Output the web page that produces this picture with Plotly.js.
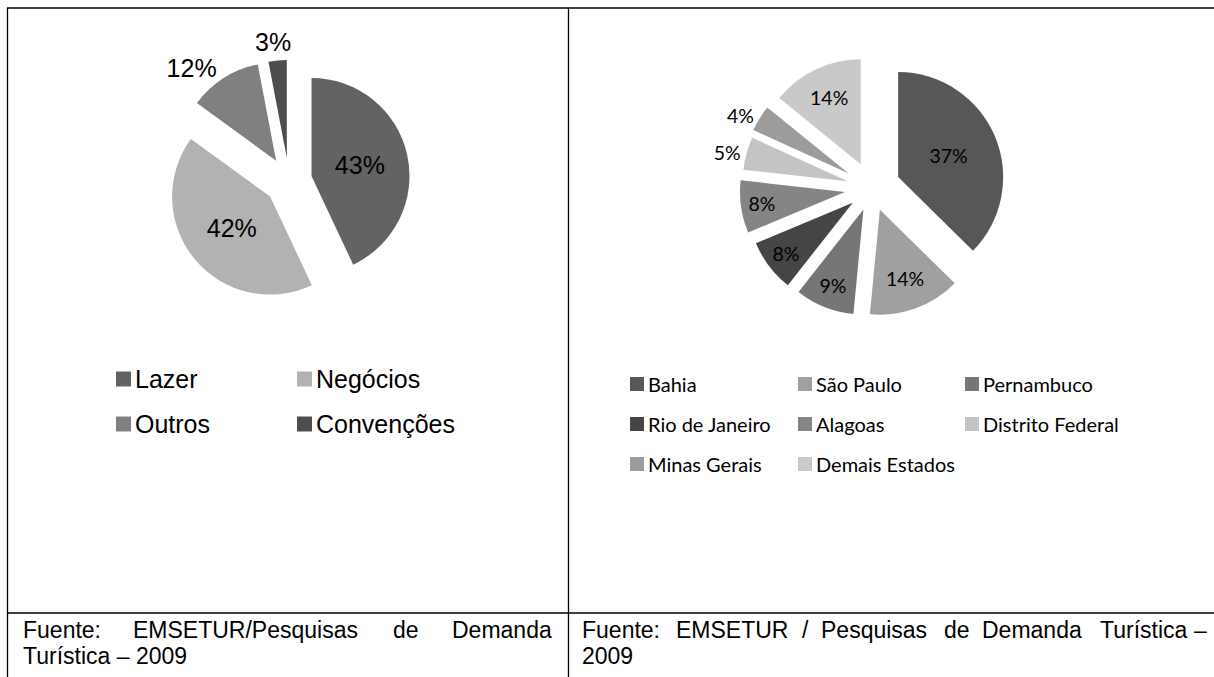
<!DOCTYPE html>
<html>
<head>
<meta charset="utf-8">
<script src="https://cdn.plot.ly/plotly-3.0.1.min.js"></script>
<style>
html,body{margin:0;padding:0;background:#fff;}
#chart{width:1214px;height:677px;}
</style>
</head>
<body>
<div id="chart"></div>
<script>
// ---------- data ----------
const motivoLabels = ['Lazer', 'Negócios', 'Outros', 'Convenções'];
const motivoValues = [43, 42, 12, 3];
const motivoColors = ['#636363', '#b2b2b2', '#808080', '#4e4e4e'];

const estadoLabels = ['Bahia', 'São Paulo', 'Pernambuco', 'Rio de Janeiro', 'Alagoas', 'Distrito Federal', 'Minas Gerais', 'Demais Estados'];
const estadoValues = [37, 14, 9, 8, 8, 5, 4, 14];
const estadoColors = ['#575757', '#a0a0a0', '#767676', '#454545', '#858585', '#c4c4c4', '#9c9c9c', '#c9c9c9'];

const fonteLeftLine1 = ['Fuente:', 'EMSETUR/Pesquisas', 'de', 'Demanda'];
const fonteLeftLine2 = 'Turística – 2009';
const fonteRightLine1 = ['Fuente:', 'EMSETUR', '/', 'Pesquisas', 'de', 'Demanda', 'Turística', '–'];
const fonteRightLine2 = '2009';

// ---------- layout helpers ----------
const W = 1214, H = 677;
const px = x => x / W;
const py = y => 1 - y / H;
const ARIAL = 'Liberation Sans, Arial, sans-serif';
const CALIBRI = 'Lato, Carlito, Calibri, sans-serif';

function pieDomain(cx, cy, r, maxPull) {
  const h = r * (1 + maxPull);
  return { x: [px(cx - h), px(cx + h)], y: [py(cy + h), py(cy - h)] };
}

const leftPull = [0.235, 0.25, 0.245, 0.235];
const rightPull = [0.27, 0.22, 0.22, 0.23, 0.26, 0.24, 0.26, 0.25];

// the smallest left slice gets its label as a free text (Plotly would add a leader line)
const motivoTotal = motivoValues.reduce((a, b) => a + b, 0);
const smallLabel = Math.round(100 * motivoValues[3] / motivoTotal) + '%';

const traces = [
  {
    type: 'pie',
    labels: motivoLabels,
    values: motivoValues,
    marker: { colors: motivoColors, line: { width: 0 } },
    sort: false,
    direction: 'clockwise',
    rotation: 0,
    pull: leftPull,
    texttemplate: '%{percent:.0%}',
    textposition: ['inside', 'inside', 'outside', 'none'],
    insidetextorientation: 'horizontal',
    textfont: { family: ARIAL, size: 25, color: '#000' },
    domain: pieDomain(289, 181, 98, Math.max(...leftPull)),
    hoverinfo: 'skip',
    showlegend: false
  },
  {
    type: 'pie',
    labels: estadoLabels,
    values: estadoValues,
    marker: { colors: estadoColors, line: { width: 0 } },
    sort: false,
    direction: 'clockwise',
    rotation: 0,
    pull: rightPull,
    texttemplate: '%{percent:.0%}',
    textposition: ['inside', 'inside', 'inside', 'inside', 'inside', 'outside', 'outside', 'inside'],
    insidetextorientation: 'horizontal',
    textfont: { family: CALIBRI, size: 19.5, color: '#000' },
    domain: pieDomain(872, 188, 105, Math.max(...rightPull)),
    hoverinfo: 'skip',
    showlegend: false
  }
];

const shapes = [];
const annotations = [];
const lineStyle = { color: '#000', width: 1.3 };
// table borders
shapes.push({ type: 'line', xref: 'paper', yref: 'paper', x0: px(7), x1: px(1214), y0: py(8), y1: py(8), line: lineStyle });
shapes.push({ type: 'line', xref: 'paper', yref: 'paper', x0: px(7.5), x1: px(7.5), y0: py(8), y1: py(677), line: lineStyle });
shapes.push({ type: 'line', xref: 'paper', yref: 'paper', x0: px(568.5), x1: px(568.5), y0: py(8), y1: py(677), line: lineStyle });
shapes.push({ type: 'line', xref: 'paper', yref: 'paper', x0: px(7), x1: px(1214), y0: py(613), y1: py(613), line: lineStyle });

// label of the smallest slice
annotations.push({ xref: 'paper', yref: 'paper', x: px(273), y: py(42), xanchor: 'center', yanchor: 'middle',
  showarrow: false, text: smallLabel, font: { family: ARIAL, size: 25, color: '#000' } });

// manual legends
function legendItem(x, y, size, color, text, font) {
  shapes.push({ type: 'rect', xref: 'paper', yref: 'paper',
    x0: px(x), x1: px(x + size), y0: py(y + size / 2), y1: py(y - size / 2),
    fillcolor: color, line: { width: 0 } });
  annotations.push({ xref: 'paper', yref: 'paper', x: px(x + size + 2), y: py(y),
    xanchor: 'left', yanchor: 'middle', showarrow: false, text: text, font: font });
}
const leftCols = [116, 297];
const leftRows = [379, 424];
motivoLabels.forEach((lab, i) => {
  legendItem(leftCols[i % 2], leftRows[Math.floor(i / 2)], 15, motivoColors[i], lab,
    { family: ARIAL, size: 25, color: '#000' });
});
const rightCols = [630, 798, 965];
const rightRows = [384, 424, 464];
estadoLabels.forEach((lab, i) => {
  legendItem(rightCols[i % 3], rightRows[Math.floor(i / 3)], 14, estadoColors[i], lab,
    { family: CALIBRI, size: 20, color: '#000' });
});

// source notes (justified words)
const noteFont = { family: ARIAL, size: 23, color: '#000' };
const leftWordX = [21, 131, 391, 554];
fonteLeftLine1.forEach((w, i) => {
  annotations.push({ xref: 'paper', yref: 'paper', x: px(leftWordX[i]), y: py(630),
    xanchor: i === fonteLeftLine1.length - 1 ? 'right' : 'left', yanchor: 'middle',
    showarrow: false, text: w, font: noteFont });
});
annotations.push({ xref: 'paper', yref: 'paper', x: px(21), y: py(656), xanchor: 'left', yanchor: 'middle',
  showarrow: false, text: fonteLeftLine2, font: noteFont });
const rightWordX = [580, 674, 800, 819, 942, 980, 1098, 1209];
fonteRightLine1.forEach((w, i) => {
  annotations.push({ xref: 'paper', yref: 'paper', x: px(rightWordX[i]), y: py(630),
    xanchor: i === fonteRightLine1.length - 1 ? 'right' : 'left', yanchor: 'middle',
    showarrow: false, text: w, font: noteFont });
});
annotations.push({ xref: 'paper', yref: 'paper', x: px(580), y: py(656), xanchor: 'left', yanchor: 'middle',
  showarrow: false, text: fonteRightLine2, font: noteFont });

const layout = {
  width: W, height: H,
  margin: { l: 0, r: 0, t: 0, b: 0 },
  paper_bgcolor: '#fff',
  plot_bgcolor: '#fff',
  showlegend: false,
  shapes: shapes,
  annotations: annotations,
  font: { family: ARIAL, color: '#000' }
};

Plotly.newPlot('chart', traces, layout, { displayModeBar: false, staticPlot: true });
</script>
</body>
</html>
